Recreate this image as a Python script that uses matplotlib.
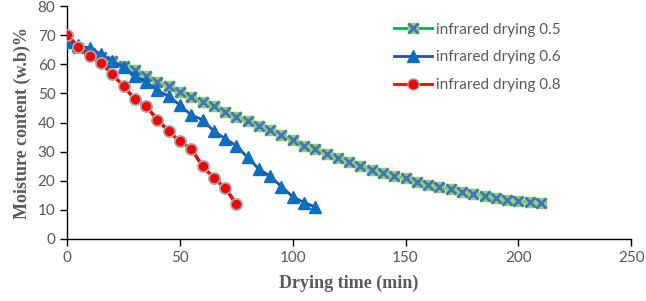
import matplotlib
matplotlib.use('Agg')
import matplotlib.pyplot as plt
from matplotlib.lines import Line2D

# drying time (min) and moisture content (w.b %)
t_05 = [0, 5, 10, 15, 20, 25, 30, 35, 40, 45, 50, 55, 60, 65, 70, 75, 80, 85, 90, 95,
        100, 105, 110, 115, 120, 125, 130, 135, 140, 145, 150, 155, 160, 165, 170, 175,
        180, 185, 190, 195, 200, 205, 210]
mc_05 = [68, 65.5, 64, 62.5, 61, 59.5, 58, 55.8, 54, 52.5, 50.5, 48.8, 47, 45.5, 43.7,
         42, 40.5, 38.8, 37.4, 35.6, 34, 32, 30.8, 29.2, 27.9, 26.6, 25, 23.8, 22.7,
         21.6, 20.9, 19.7, 18.6, 17.8, 17, 16.2, 15.6, 14.9, 14, 13.4, 12.9, 12.7, 12.2]

t_06 = [0, 5, 10, 15, 20, 25, 30, 35, 40, 45, 50, 55, 60, 65, 70, 75, 80, 85, 90, 95,
        100, 105, 110]
mc_06 = [67.5, 66.5, 65.5, 63.5, 61, 59, 56, 54, 51, 49, 46, 42.5, 41, 37, 34.5, 32,
         28, 24, 21.5, 18, 14.5, 12.5, 11]

t_08 = [0, 5, 10, 15, 20, 25, 30, 35, 40, 45, 50, 55, 60, 65, 70, 75]
mc_08 = [70, 66, 63, 60.5, 56.5, 52.5, 48, 45.5, 41, 37, 33.5, 31, 25, 21, 17.5, 12]

labels = ['infrared drying 0.5', 'infrared drying 0.6', 'infrared drying 0.8']

grey = '#595959'
plt.rcParams['font.family'] = ['Lato', 'DejaVu Sans']

fig = plt.figure(figsize=(6.46, 3.01), dpi=100)
ax = fig.add_axes([0.104, 0.206, 0.873, 0.774])

# 0.5 : green line, green square with blue cross
ax.plot(t_05, mc_05, color='#4CB848', lw=2, zorder=2)
ax.plot(t_05, mc_05, ls='none', marker='s', ms=6.5, mfc='#8DD35F', mec='#8DD35F', zorder=3)
ax.plot(t_05, mc_05, ls='none', marker='x', ms=6.5, mew=2, mec='#4472C4', zorder=4)

# 0.6 : dark blue line, blue triangles
ax.plot(t_06, mc_06, color='#2F4F99', lw=2, marker='^', ms=8.5,
        mfc='#0A6FC2', mec='#0A6FC2', zorder=5)

# 0.8 : red line, red circles with grey rim
ax.plot(t_08, mc_08, color='#FF0000', lw=2.5, marker='o', ms=8,
        mfc='#FF0000', mec='#A6A6A6', mew=1.3, zorder=6)

ax.set_xlim(0, 250)
ax.set_ylim(0, 80)
ax.set_xticks(range(0, 251, 50))
ax.set_yticks(range(0, 81, 10))
ax.spines['top'].set_visible(False)
ax.spines['right'].set_visible(False)
for s in ['left', 'bottom']:
    ax.spines[s].set_color('black')
    ax.spines[s].set_linewidth(1)
ax.tick_params(direction='out', length=5, width=1, colors='black',
               labelcolor=grey, labelsize=11)

ax.set_xlabel('Drying time (min)', family='Liberation Serif', fontweight='bold',
              fontsize=13, color=grey, labelpad=7)
ax.set_ylabel('Moisture content (w.b)%', family='Liberation Serif', fontweight='bold',
              fontsize=13, color=grey, labelpad=5)

h05 = (Line2D([], [], color='#00B050', lw=2),
       Line2D([], [], ls='none', marker='s', ms=6.5, mfc='#8DD35F', mec='#8DD35F'),
       Line2D([], [], ls='none', marker='x', ms=6.5, mew=2, mec='#4472C4'))
h06 = Line2D([], [], color='#2F4F99', lw=2, marker='^', ms=8.5, mfc='#0A6FC2', mec='#0A6FC2')
h08 = Line2D([], [], color='#FF0000', lw=2, marker='o', ms=8, mfc='#FF0000', mec='#A6A6A6')
leg = ax.legend([h05, h06, h08], labels, loc='upper left', bbox_to_anchor=(0.555, 0.988),
                frameon=False, fontsize=11, labelspacing=0.9, handlelength=2.5,
                handletextpad=0.25)
for txt in leg.get_texts():
    txt.set_color(grey)

fig.savefig('out.png', dpi=100)
